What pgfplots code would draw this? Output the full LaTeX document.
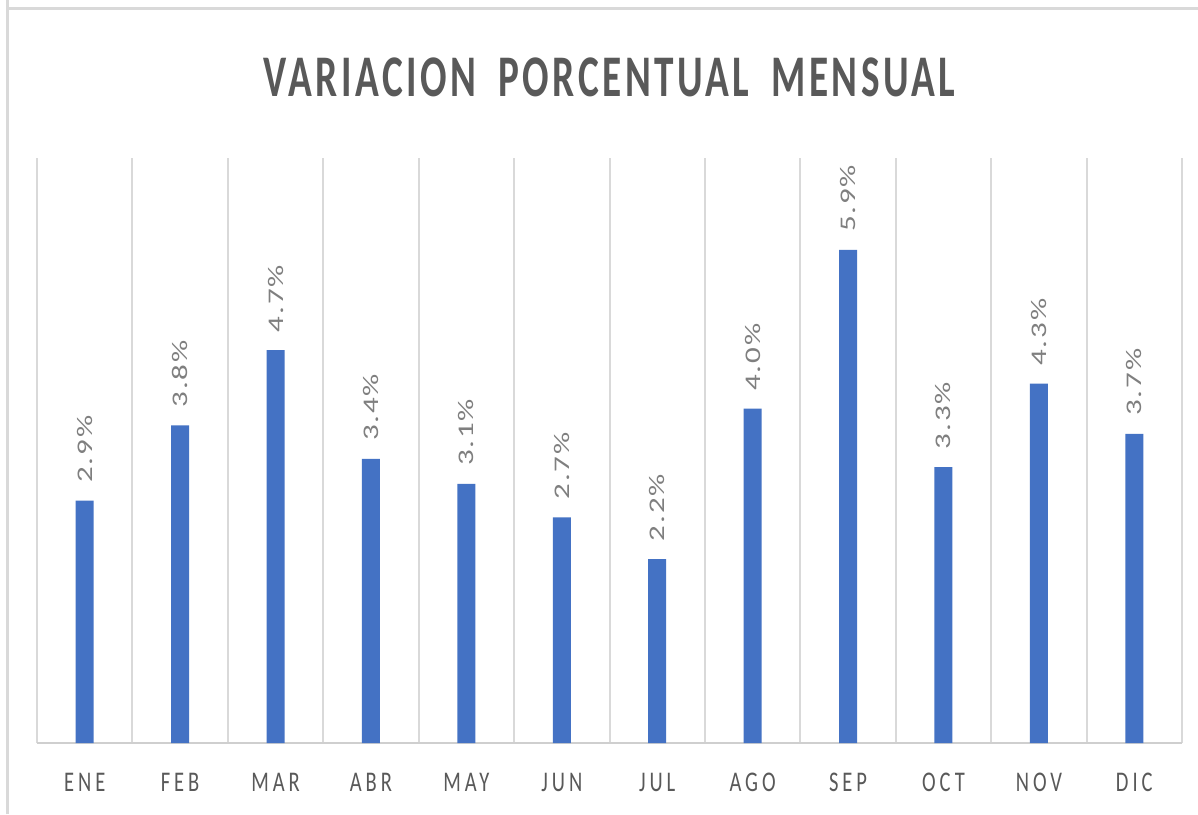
\documentclass[border=0pt]{standalone}
\usepackage{fontspec}
\usepackage{graphicx}
\usepackage{pgfplots}
\pgfplotsset{compat=1.18}
\setmainfont{Carlito}
\newfontfamily\titlefont[FakeStretch=0.665,LetterSpace=6]{Carlito}
\newfontfamily\tickfont[FakeStretch=0.72,LetterSpace=14]{Carlito}
\newfontfamily\labfont[LetterSpace=6]{Carlito}
\definecolor{barblue}{HTML}{4472C4}
\definecolor{gridgray}{HTML}{D9D9D9}
\definecolor{axgray}{HTML}{CFCFCF}
\definecolor{txtgray}{HTML}{595959}
\definecolor{labgray}{HTML}{7F7F7F}
\begin{document}
\begin{tikzpicture}
\useasboundingbox (0,0) rectangle (599pt,407pt);
\fill[white] (0,0) rectangle (599pt,407pt);
\draw[gridgray, line width=1.5pt] (3.75pt,0) -- (3.75pt,407pt);
\draw[gridgray, line width=1.5pt] (3.75pt,402.5pt) -- (599pt,402.5pt);
\begin{axis}[
  at={(18.5pt,35.5pt)}, anchor=south west,
  scale only axis, width=572.5pt, height=292.5pt,
  ybar, bar width=9pt,
  xmin=-0.5, xmax=11.5, ymin=0, ymax=7,
  enlargelimits=false,
  axis x line*=bottom, axis y line=none,
  x axis line style={draw=axgray, line width=1pt},
  xtick={0,...,11},
  xticklabels={ENE,FEB,MAR,ABR,MAY,JUN,JUL,AGO,SEP,OCT,NOV,DIC},
  minor xtick={-0.5,0.5,...,11.5},
  xminorgrids=true,
  minor grid style={draw=gridgray, line width=1pt},
  major tick length=0pt, minor tick length=0pt,
  xticklabel style={font=\tickfont\fontsize{14.25}{16}\selectfont, text=txtgray, anchor=base, yshift=-24pt},
  title={\titlefont\bfseries VARIACION\hspace{11pt}PORCENTUAL\hspace{11pt}MENSUAL},
  title style={font=\fontsize{29.5}{32}\selectfont, text=txtgray, at={(0.5,1)}, anchor=base, yshift=25pt},
  nodes near coords={\scalebox{1}[0.72]{\labfont\fontsize{15.5}{17}\selectfont\pgfmathprintnumber[fixed,fixed zerofill,precision=1,assume math mode=true]{\pgfplotspointmeta}\%}},
  nodes near coords style={rotate=90, anchor=west, inner sep=0pt, outer xsep=9pt, text=labgray},
]
\addplot[fill=barblue, draw=none] coordinates {
(0,2.9) (1,3.8) (2,4.7) (3,3.4) (4,3.1) (5,2.7)
(6,2.2) (7,4.0) (8,5.9) (9,3.3) (10,4.3) (11,3.7)
};
\end{axis}
\end{tikzpicture}
\end{document}
